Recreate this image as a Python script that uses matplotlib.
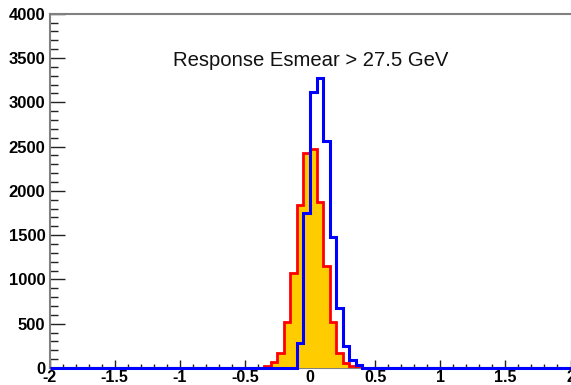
import numpy as np
import matplotlib
matplotlib.use("Agg")
import matplotlib.pyplot as plt
from matplotlib.ticker import MultipleLocator

plt.rcParams['font.family'] = ['Liberation Sans', 'DejaVu Sans']

# histogram binning: 80 bins of width 0.05 on [-2, 2]
x_lo = -2.0
x_hi = 2.0
n_bins = 80

# red/orange histogram, contents starting at x = -0.35
red_start = -0.35
red_counts = [20, 72, 170, 516, 1075, 1838, 2430, 2467, 1874, 1150, 523, 166, 53, 20]

# blue histogram, contents starting at x = -0.1
blue_start = -0.10
blue_counts = [286, 1748, 3115, 3270, 2565, 1475, 674, 245, 85, 30]

title = "Response Esmear > 27.5 GeV"

edges = np.linspace(x_lo, x_hi, n_bins + 1)
bin_w = (x_hi - x_lo) / n_bins


def fill_bins(start, counts):
    h = np.zeros(n_bins)
    i0 = int(round((start - x_lo) / bin_w))
    h[i0:i0 + len(counts)] = counts
    return h


h_red = fill_bins(red_start, red_counts)
h_blue = fill_bins(blue_start, blue_counts)

fig = plt.figure(figsize=(5.71, 3.85), dpi=100)
ax = fig.add_axes([49.5 / 571, 17 / 385, 521 / 571, 354.3 / 385])

ax.stairs(h_red, edges, fill=True, color='#FFCC00', lw=0, zorder=3)
ax.stairs(h_red, edges, color='#FF0000', lw=2, zorder=3)
ax.stairs(h_blue, edges, color='#0000FF', lw=2.2, clip_on=False, zorder=4)

ax.set_xlim(x_lo, x_hi)
ax.set_ylim(0, 4000)

ax.xaxis.set_major_locator(MultipleLocator(0.5))
ax.xaxis.set_minor_locator(MultipleLocator(0.1))
ax.yaxis.set_major_locator(MultipleLocator(500))
ax.yaxis.set_minor_locator(MultipleLocator(100))
ax.xaxis.set_major_formatter(plt.FuncFormatter(lambda v, p: f"{v:g}"))

ax.tick_params(axis='both', which='both', direction='in', colors='#222222',
               labelcolor='black', labelsize=12, width=1)
ax.tick_params(axis='y', which='major', length=11, pad=3)
ax.tick_params(axis='y', which='minor', length=5.5)
ax.tick_params(axis='x', which='major', length=6, pad=1.5, labelsize=11.5)
ax.tick_params(axis='x', which='minor', length=3)
for lab in ax.get_xticklabels() + ax.get_yticklabels():
    lab.set_fontweight('bold')
# ticks sit on top of the histograms
for t in ax.xaxis.get_major_ticks() + ax.xaxis.get_minor_ticks():
    t.tick1line.set_zorder(5)

for s in ['top', 'left', 'bottom']:
    ax.spines[s].set_color('#808080')
    ax.spines[s].set_linewidth(1.5)
ax.spines['right'].set_visible(False)

ax.text(0.502, 0.869, title, transform=ax.transAxes, ha='center', va='center',
        fontsize=14.6, color='#111111')

fig.savefig("out.png", dpi=100)
